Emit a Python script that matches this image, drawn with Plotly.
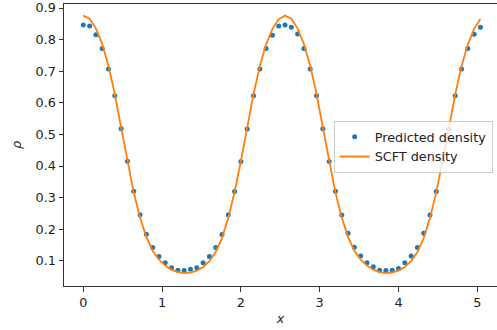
import plotly.graph_objects as go

x_grid = [0.00, 0.08, 0.16, 0.24, 0.32, 0.40, 0.48, 0.56, 0.64, 0.72,
          0.80, 0.88, 0.96, 1.04, 1.12, 1.20, 1.28, 1.36, 1.44, 1.52,
          1.60, 1.68, 1.76, 1.84, 1.92, 2.00, 2.08, 2.16, 2.24, 2.32,
          2.40, 2.48, 2.56, 2.64, 2.72, 2.80, 2.88, 2.96, 3.04, 3.12,
          3.20, 3.28, 3.36, 3.44, 3.52, 3.60, 3.68, 3.76, 3.84, 3.92,
          4.00, 4.08, 4.16, 4.24, 4.32, 4.40, 4.48, 4.56, 4.64, 4.72,
          4.80, 4.88, 4.96, 5.04]

predicted = [0.846, 0.843, 0.815, 0.772, 0.707, 0.622, 0.518, 0.415, 0.320, 0.246,
             0.184, 0.142, 0.114, 0.094, 0.078, 0.070, 0.069, 0.073, 0.078, 0.094,
             0.114, 0.142, 0.183, 0.246, 0.319, 0.414, 0.517, 0.622, 0.707, 0.772,
             0.814, 0.843, 0.846, 0.839, 0.818, 0.772, 0.707, 0.622, 0.518, 0.414,
             0.320, 0.245, 0.187, 0.143, 0.115, 0.094, 0.081, 0.070, 0.069, 0.070,
             0.076, 0.094, 0.115, 0.142, 0.187, 0.245, 0.319, 0.417, 0.517, 0.622,
             0.707, 0.772, 0.817, 0.839]

scft = [0.876, 0.866, 0.835, 0.786, 0.716, 0.628, 0.522, 0.414, 0.316, 0.237,
        0.175, 0.132, 0.104, 0.085, 0.072, 0.064, 0.061, 0.063, 0.069, 0.080,
        0.099, 0.128, 0.172, 0.236, 0.318, 0.416, 0.522, 0.627, 0.716, 0.785,
        0.834, 0.865, 0.876, 0.866, 0.835, 0.786, 0.716, 0.628, 0.522, 0.414,
        0.316, 0.237, 0.175, 0.132, 0.104, 0.085, 0.072, 0.064, 0.061, 0.063,
        0.069, 0.080, 0.099, 0.128, 0.172, 0.236, 0.318, 0.416, 0.522, 0.627,
        0.716, 0.785, 0.834, 0.866]

x_ticks = [0, 1, 2, 3, 4, 5]
y_ticks = [0.1, 0.2, 0.3, 0.4, 0.5, 0.6, 0.7, 0.8, 0.9]

fig = go.Figure()
fig.add_trace(go.Scatter(
    x=x_grid, y=predicted, mode="markers", name="Predicted density",
    marker=dict(color="#1f77b4", size=5),
))
fig.add_trace(go.Scatter(
    x=x_grid, y=scft, mode="lines", name="SCFT density",
    line=dict(color="#ff7f0e", width=1.8),
))

FS = 12.8
font = dict(family="DejaVu Sans", size=FS, color="#222222")
fig.update_layout(
    width=497, height=330,
    margin=dict(l=64, r=0, t=4, b=44),
    paper_bgcolor="white", plot_bgcolor="white",
    font=font,
    showlegend=True,
    legend=dict(
        x=0.99, y=0.585, xanchor="right", yanchor="top",
        bgcolor="rgba(255,255,255,0.8)", bordercolor="#cccccc", borderwidth=1,
        font=dict(family="DejaVu Sans", size=FS, color="#222222"),
        tracegroupgap=0, itemwidth=30,
    ),
    xaxis=dict(
        range=[-0.245, 5.25], tickmode="array", tickvals=x_ticks,
        ticktext=[str(v) for v in x_ticks],
        showgrid=False, zeroline=False,
        showline=True, mirror=True, linecolor="#333333", linewidth=1,
        ticks="outside", ticklen=4.5, tickwidth=1, tickcolor="#333333",
        title=dict(text="<i>x</i>", font=dict(family="DejaVu Sans", size=FS), standoff=5),
        automargin=False,
    ),
    yaxis=dict(
        range=[0.0203, 0.9127], tickmode="array", tickvals=y_ticks,
        ticktext=[f"{v:.1f}" for v in y_ticks],
        showgrid=False, zeroline=False,
        showline=True, mirror=False, linecolor="#333333", linewidth=1,
        ticks="outside", ticklen=4.5, tickwidth=1, tickcolor="#333333",
        title=dict(text="<i>ρ</i>", font=dict(family="DejaVu Sans", size=FS), standoff=11),
        automargin=False,
    ),
)

fig.write_html(
    "out.html",
    config={"displayModeBar": False},
    post_script="document.body.style.margin='0';document.body.style.overflow='hidden';",
)
